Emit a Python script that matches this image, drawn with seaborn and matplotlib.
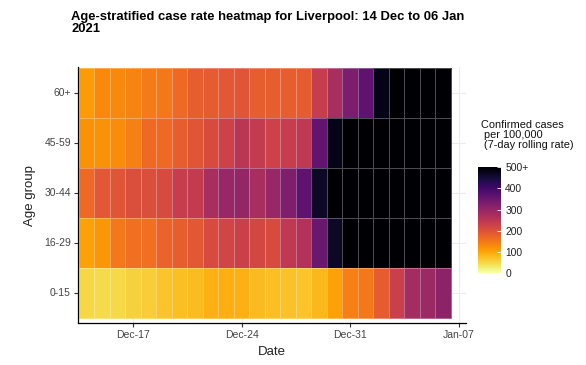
import pandas as pd
import numpy as np
import matplotlib
matplotlib.use('Agg')
import matplotlib.pyplot as plt
import seaborn as sns

# Data (cases per 100,000, 7-day rolling rate)
start_date = '2020-12-14'
end_date = '2021-01-06'
age_groups = ['60+', '45-59', '30-44', '16-29', '0-15']
tick_dates = ['2020-12-17', '2020-12-24', '2020-12-31', '2021-01-07']

rate_60_plus = [110, 130, 130, 135, 145, 150, 165, 180, 185, 190, 195, 180,
                180, 180, 185, 235, 275, 330, 365, 480, 500, 500, 500, 500]
rate_45_59 = [120, 120, 125, 140, 165, 165, 180, 195, 210, 225, 250, 240,
              225, 235, 245, 360, 480, 500, 500, 500, 500, 500, 500, 500]
rate_30_44 = [165, 190, 195, 205, 205, 210, 235, 240, 275, 295, 300, 275,
              295, 325, 365, 465, 500, 500, 500, 500, 500, 500, 500, 500]
rate_16_29 = [105, 115, 150, 160, 160, 175, 180, 190, 210, 220, 230, 215,
              210, 245, 260, 350, 465, 500, 500, 500, 500, 500, 500, 500]
rate_0_15 = [50, 45, 48, 55, 60, 70, 75, 78, 88, 90, 88, 80,
             75, 72, 70, 82, 105, 140, 150, 185, 230, 280, 290, 310]

dates = pd.date_range(start_date, end_date)
df = pd.DataFrame([rate_60_plus, rate_45_59, rate_30_44, rate_16_29, rate_0_15],
                  index=age_groups, columns=dates)

plt.rcParams['font.family'] = ['Liberation Sans', 'DejaVu Sans']

fig = plt.figure(figsize=(5.86, 3.65), dpi=100)
ax = fig.add_axes([0.133, 0.115, 0.662, 0.701])
cax = fig.add_axes([0.816, 0.252, 0.039, 0.290])

ax.set_axisbelow(True)

sns.heatmap(df, ax=ax, cbar_ax=cax, cmap='inferno_r', vmin=0, vmax=500,
            linewidths=0.6, linecolor=(1, 1, 1, 0.3))

# axis limits and ticks (ggplot-like expansion)
ax.set_xlim(-0.06, 24.97)
ax.set_ylim(5.1, -0.02)
start = pd.Timestamp(start_date)
tick_pos = [(pd.Timestamp(d) - start).days + 0.5 for d in tick_dates]
ax.set_xticks(tick_pos)
ax.set_xticklabels([pd.Timestamp(d).strftime('%b-%d') for d in tick_dates],
                   rotation=0)
ax.set_yticks(np.arange(len(age_groups)) + 0.5)
ax.set_yticklabels(age_groups, rotation=0)
ax.tick_params(axis='both', length=3, width=0.8, color='#333333',
               labelsize=7.5, labelcolor='#444444', pad=2)
ax.grid(True, color='#ebebeb', linewidth=0.8)

for side in ['left', 'bottom']:
    ax.spines[side].set_visible(True)
    ax.spines[side].set_color('black')
    ax.spines[side].set_linewidth(0.9)
for side in ['top', 'right']:
    ax.spines[side].set_visible(False)

ax.set_xlabel('Date', fontsize=9.5, color='#222222', labelpad=4)
ax.set_ylabel('Age group', fontsize=9.5, color='#222222', labelpad=6)

# colourbar styled like ggplot's guide_colourbar
cbar = ax.collections[0].colorbar
cbar.outline.set_visible(False)
cbar.set_ticks([0, 100, 200, 300, 400, 500])
cbar.set_ticklabels(['0', '100', '200', '300', '400', '500+'])
cax.tick_params(length=3, width=0.6, color='white', direction='in',
                labelsize=7.4, labelcolor='#222222', pad=3)

fig.text(0.820, 0.590, 'Confirmed cases\n per 100,000\n (7-day rolling rate)',
         fontsize=7.9, ha='left', va='bottom', linespacing=1.0,
         color='#111111')

fig.text(0.122, 0.905, 'Age-stratified case rate heatmap for Liverpool: 14 Dec to 06 Jan\n2021',
         fontsize=9.4, fontweight='bold', ha='left', va='bottom',
         linespacing=0.92)

fig.savefig('out.png', dpi=100, facecolor='white')
